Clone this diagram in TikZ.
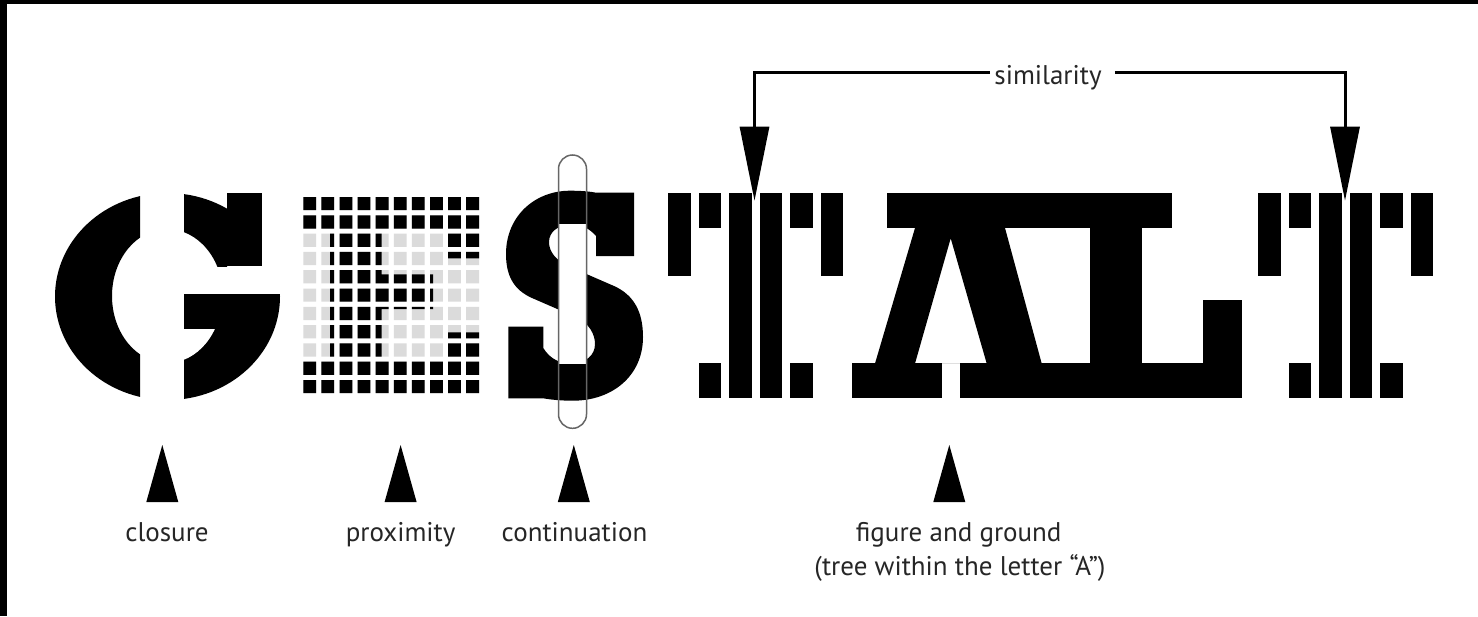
\documentclass[tikz,border=0pt]{standalone}
\usepackage{fontspec}
\setmainfont{PT Sans}
\usetikzlibrary{arrows.meta,calc}
\definecolor{egrey}{gray}{0.86}
\begin{document}
\begin{tikzpicture}[x=1pt,y=-1pt,
  lbl/.style={font=\fontsize{27}{33}\selectfont, text=black!85, inner sep=0pt},
  tri/.style={fill=black},
  simline/.style={draw=black, line width=3pt, -{Triangle[width=29pt,length=74pt]}},
  loopline/.style={draw=black!60, line width=1.5pt}]
\useasboundingbox (0,0) rectangle (1478,616);
\fill[white] (0,0) rectangle (1478,616);
\fill[black] (0,0) rectangle (1478,4);
\fill[black] (0,0) rectangle (7,616);

% ---------- G (closure)
\begin{scope}
  \clip (40,180) rectangle (140,410);
  \fill[black,even odd rule] (167.5,296.5) ellipse [x radius=112.5, y radius=103.5]
        (167,296) ellipse [x radius=55, y radius=67];
\end{scope}
\begin{scope}
  \clip (184,180) rectangle (227,266);
  \fill[black,even odd rule] (167.5,296.5) ellipse [x radius=112.5, y radius=103.5]
        (167,296) ellipse [x radius=56, y radius=67];
\end{scope}
\fill[black] (227,193) rectangle (262,266);
\begin{scope}
  \clip (184,294) rectangle (300,410);
  \fill[black] (167.5,296.5) ellipse [x radius=112.5, y radius=103.5];
\end{scope}
\begin{scope}
  \clip (184,329) rectangle (300,410);
  \fill[white] (167,296) ellipse [x radius=55, y radius=67];
\end{scope}

% ---------- E (proximity)
\begin{scope}
  \clip \foreach \i in {0,...,9}{ \foreach \j in {0,...,10}{
      (303.3+18.1*\i,197+18.3*\j) rectangle ++(12.8,13.2) } };
  \fill[egrey] (295,190) rectangle (490,400);
  \fill[black] (295,190) rectangle (490,231)
               (295,359) rectangle (490,400)
               (330,231) rectangle (381.5,359)
               (381,274.3) rectangle (433,309)
               (445,231) rectangle (490,258.3)
               (445,332.3) rectangle (490,359);
\end{scope}

% ---------- S (continuation)
\fill[black] (596,192.7) -- (634,192.7) -- (634,256) -- (596,256) -- (596,236)
 .. controls (589,228) and (581,224.5) .. (572,224.5)
 .. controls (558,224.5) and (549,232) .. (549,242)
 .. controls (549,252) and (556,260) .. (568,266)
 -- (614,286)
 .. controls (634,295) and (643,312) .. (643,337)
 .. controls (643,376) and (612,400.7) .. (573,400.7)
 .. controls (560,400.7) and (550,399.5) .. (543.3,398.3)
 -- (508.3,398.3) -- (508.3,326.7) -- (543.3,326.7) -- (543.3,348)
 .. controls (550,359) and (560,363.5) .. (571,363.5)
 .. controls (586,363.5) and (595,355) .. (595,344)
 .. controls (595,334) and (589,324) .. (578,318)
 -- (532,298)
 .. controls (514,290) and (506,276) .. (506,254)
 .. controls (506,216) and (535,190.7) .. (570,190.7)
 .. controls (581,190.7) and (590,191.5) .. (596,192.7) -- cycle;
\fill[white] (559,224) rectangle (586,363.5);
\draw[loopline, rounded corners=14pt] (558.5,155) rectangle (586.5,428.3);

% ---------- T letters (similarity)
\foreach \x in {668.3,1258.3}{
  \fill[black] (\x,193.3) rectangle ++(22.4,82.7);
  \fill[black] (\x+30.5,193.3) rectangle ++(22.4,35);
  \fill[black] (\x+61,193.3) rectangle ++(22.4,205);
  \fill[black] (\x+91.5,193.3) rectangle ++(22.4,205);
  \fill[black] (\x+122,193.3) rectangle ++(22.4,35);
  \fill[black] (\x+152.5,193.3) rectangle ++(22.4,82.7);
  \fill[black] (\x+30.5,362.7) rectangle ++(22.4,35.6);
  \fill[black] (\x+122,362.7) rectangle ++(22.4,35.6);
}

% ---------- A and L (figure and ground)
\fill[black] (887.3,193.3) rectangle (1171.7,228.3);
\fill[black,even odd rule] (915,228) -- (1005,228) -- (1041.7,363.5) -- (875,363.5) -- cycle
   (950.7,238.3) -- (986.7,363.5) -- (915,363.5) -- cycle;
\fill[black] (852,363.3) rectangle (941.7,398.3);
\fill[black] (960,363.3) rectangle (1241.7,398.3);
\fill[black] (1090,228) rectangle (1141.7,363.5);
\fill[black] (1203.3,300) rectangle (1241.7,363.5);

% ---------- similarity connector
\node[lbl, anchor=base] (sim) at (1048,84.6) {similarity};
\coordinate (lineY) at (0,72);
\coordinate (sl) at ($(sim.west |- lineY)+(-4,0)$);
\coordinate (sr) at ($(sim.east |- lineY)+(13,0)$);
\coordinate (t1) at (754.5,200.7);
\coordinate (t2) at (1345,200.7);
\draw[simline] (sl) -| (t1);
\draw[simline] (sr) -| (t2);

% ---------- bottom labels and markers
\node[lbl, anchor=base] (closure) at (167,541.7) {closure};
\node[lbl, anchor=base] (prox) at (400.6,541.7) {proximity};
\node[lbl, anchor=base] (cont) at (574.5,541.7) {continuation};
\node[lbl, anchor=base] (fig) at (958.7,541.7) {figure and ground};
\node[lbl, anchor=base] (fig2) at (960,575) {(tree within the letter “A”)};

\foreach \x in {162.3,400.6,573.8,949.3}{
  \fill[tri] (\x,445) -- (\x+16,502) -- (\x-16,502) -- cycle;
}
\end{tikzpicture}
\end{document}
